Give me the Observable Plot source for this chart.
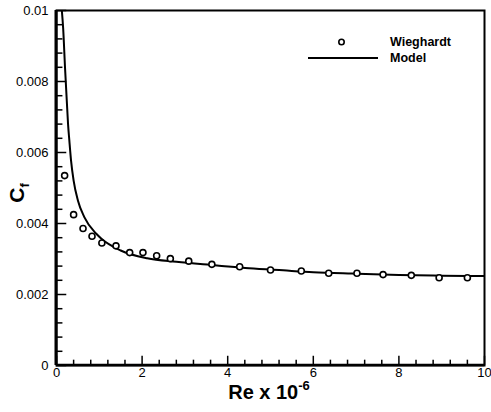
<!DOCTYPE html>
<html><head><meta charset="utf-8">
<script src="https://cdn.jsdelivr.net/npm/d3@7"></script>
<script src="https://cdn.jsdelivr.net/npm/@observablehq/plot@0.6"></script>
<style>
body{margin:0;background:#fff;font-family:"Liberation Sans",Arial,sans-serif}
#wrap{position:relative;width:491px;height:412px}
</style></head><body><div id="wrap"></div>
<script>
// Wieghardt experimental data (Re x 1e-6, Cf)
const expRe = [0.19,0.40,0.62,0.83,1.06,1.39,1.71,2.02,2.34,2.66,3.09,3.63,4.28,5.00,5.72,6.36,7.02,7.63,8.29,8.94,9.60];
const expCf = [0.00535,0.00425,0.00386,0.00364,0.00345,0.00337,0.00318,0.00318,0.00309,0.00301,0.00294,0.00285,0.00278,0.00269,0.00266,0.00260,0.00260,0.00256,0.00254,0.00247,0.00247];
// Model curve
const modRe = [0.125,0.156,0.20,0.25,0.27,0.30,0.34,0.40,0.50,0.65,0.93,1.05,1.5,2.12,2.8,3.75,4.5,5.3,6.0,6.9,8.0,9.0,10.0];
const modCf = [0.0100,0.00949,0.00837,0.00724,0.0068,0.00634,0.00577,0.00521,0.00465,0.00418,0.00371,0.00357,0.00324,0.00302,0.00292,0.00282,0.00274,0.00268,0.00263,0.00259,0.00255,0.00253,0.00252];
const xMajor = [0,2,4,6,8,10];
const xMinor = [0.4,0.8,1.2,1.6,2.4,2.8,3.2,3.6,4.4,4.8,5.2,5.6,6.4,6.8,7.2,7.6,8.4,8.8,9.2,9.6];
const yMajor = [0,0.002,0.004,0.006,0.008,0.01];
const yMinor = [0.0004,0.0008,0.0012,0.0016,0.0024,0.0028,0.0032,0.0036,0.0044,0.0048,0.0052,0.0056,0.0064,0.0068,0.0072,0.0076,0.0084,0.0088,0.0092,0.0096];
const yLabels = ["0","0.002","0.004","0.006","0.008","0.01"];

const exp = expRe.map((r,i)=>({re:r,cf:expCf[i]}));
const mod = modRe.map((r,i)=>({re:r,cf:modCf[i]}));
const xMinorT = xMinor.map(v=>({v})), xMajorT = xMajor.map(v=>({v}));
const yMinorT = yMinor.map(v=>({v})), yMajorT = yMajor.map(v=>({v}));

const W = 491, H = 412, mL = 56, mT = 10, mR = 7, mB = 47;

const plot = Plot.plot({
  width:W, height:H,
  marginLeft:mL, marginTop:mT, marginRight:mR, marginBottom:mB,
  style:{fontFamily:"Liberation Sans, Arial, sans-serif", fontSize:"13px", background:"#fff", color:"#000"},
  x:{domain:[0,10]},
  y:{domain:[0,0.01]},
  marks:[
    Plot.ruleX(xMinorT,{x:"v", y1:0, y2:0.00015, stroke:"#000", strokeWidth:1.5}),
    Plot.ruleX(xMajorT,{x:"v", y1:0, y2:0.00026, stroke:"#000", strokeWidth:1.5}),
    Plot.ruleY(yMinorT,{y:"v", x1:0, x2:0.15, stroke:"#000", strokeWidth:1.5}),
    Plot.ruleY(yMajorT,{y:"v", x1:0, x2:0.24, stroke:"#000", strokeWidth:1.5}),
    Plot.line(mod,{x:"re",y:"cf",stroke:"#000",strokeWidth:2,curve:"monotone-x",clip:true}),
    Plot.dot(exp,{x:"re",y:"cf",r:3,stroke:"#000",strokeWidth:1.6,fill:"#fff"}),
    Plot.axisX({ticks:xMajor, tickSize:0, tickPadding:2, tickFormat:d=>String(d), fontSize:13, label:null}),
    Plot.axisY({ticks:yMajor, tickSize:0, tickPadding:8, tickFormat:d=>yLabels[yMajor.indexOf(d)], fontSize:13, label:null}),
    Plot.frame({stroke:"#000", strokeWidth:2})
  ]
});
const svg = d3.select(plot);
svg.attr("overflow","visible");
const sx = plot.scale("x"), sy = plot.scale("y");
const x0 = sx.apply(0), x1 = sx.apply(10), y0 = sy.apply(0), y1 = sy.apply(0.01);
// thicker left and bottom axis lines
svg.append("line").attr("x1",x0).attr("x2",x0).attr("y1",y1).attr("y2",y0).attr("stroke","#000").attr("stroke-width",3);
svg.append("line").attr("x1",x0).attr("x2",x1).attr("y1",y0).attr("y2",y0).attr("stroke","#000").attr("stroke-width",2.5);
// axis titles
const yl = svg.append("text").attr("transform","translate(24,193) rotate(-90)").attr("text-anchor","middle")
  .attr("font-family","Liberation Sans, Arial, sans-serif").attr("font-weight","bold").attr("font-size","21px");
yl.append("tspan").text("C");
yl.append("tspan").attr("font-size","13px").attr("dy","5").text("f");
const xl = svg.append("text").attr("x",269).attr("y",399).attr("text-anchor","middle")
  .attr("font-family","Liberation Sans, Arial, sans-serif").attr("font-weight","bold").attr("font-size","20px");
xl.append("tspan").text("Re x 10");
xl.append("tspan").attr("font-size","13px").attr("dy","-9").text("-6");
document.getElementById("wrap").appendChild(plot);

// legend overlay
const lg = d3.select("#wrap").append("svg").attr("width",200).attr("height",40)
  .style("position","absolute").style("left","300px").style("top","30px");
lg.append("circle").attr("cx",41.5).attr("cy",12).attr("r",2.7).attr("fill","#fff").attr("stroke","#000").attr("stroke-width",1.6);
lg.append("line").attr("x1",8).attr("x2",78).attr("y1",28).attr("y2",28).attr("stroke","#000").attr("stroke-width",2);
lg.append("text").attr("x",90).attr("y",16).attr("font-weight","bold").attr("font-size","12.5px").attr("font-family","Liberation Sans, Arial, sans-serif").text("Wieghardt");
lg.append("text").attr("x",90).attr("y",32).attr("font-weight","bold").attr("font-size","12.5px").attr("font-family","Liberation Sans, Arial, sans-serif").text("Model");
</script></body></html>
